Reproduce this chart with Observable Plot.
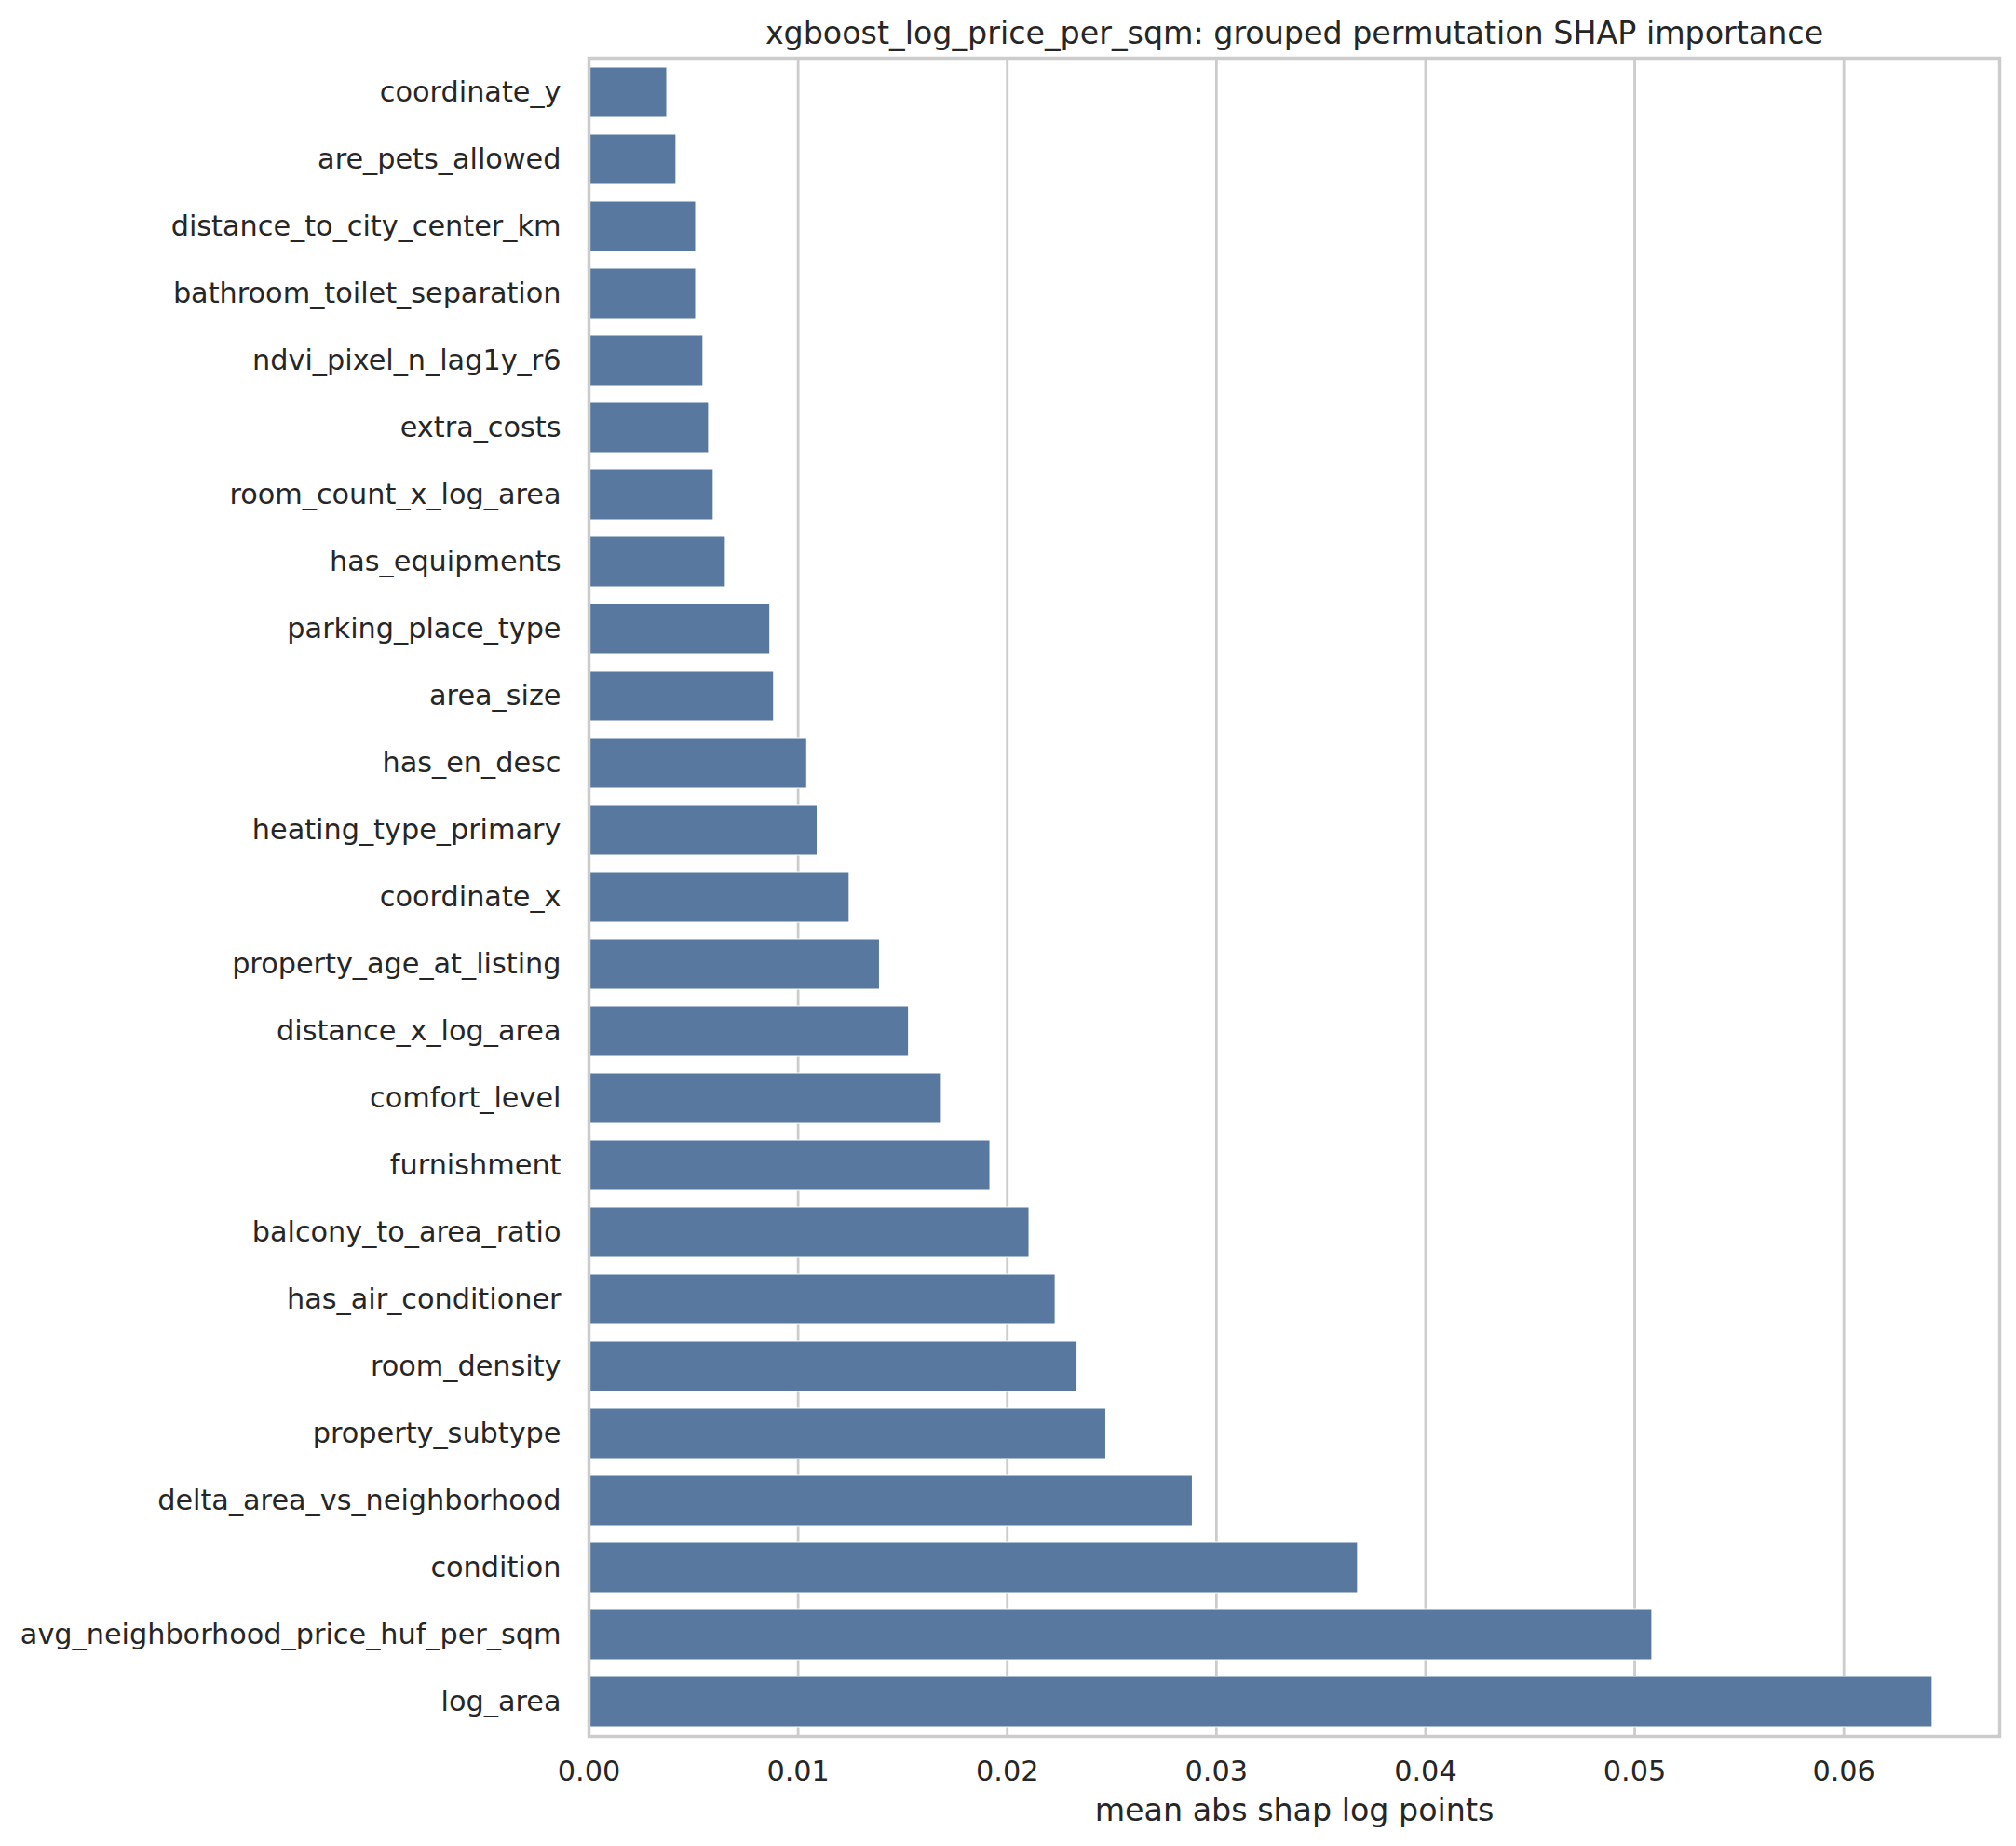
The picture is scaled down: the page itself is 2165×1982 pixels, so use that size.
<!DOCTYPE html>
<html><head><meta charset="utf-8">
<script src="https://cdn.jsdelivr.net/npm/d3@7"></script>
<script src="https://cdn.jsdelivr.net/npm/@observablehq/plot@0.6"></script>
<style>body{margin:0;background:#fff} svg{font-family:"DejaVu Sans"}</style>
</head><body><div id="chart"></div>
<script>
const features = [
  "coordinate_y","are_pets_allowed","distance_to_city_center_km","bathroom_toilet_separation",
  "ndvi_pixel_n_lag1y_r6","extra_costs","room_count_x_log_area","has_equipments",
  "parking_place_type","area_size","has_en_desc","heating_type_primary","coordinate_x",
  "property_age_at_listing","distance_x_log_area","comfort_level","furnishment",
  "balcony_to_area_ratio","has_air_conditioner","room_density","property_subtype",
  "delta_area_vs_neighborhood","condition","avg_neighborhood_price_huf_per_sqm","log_area"
];
const importance = [
  0.00374,0.00418,0.00512,0.00512,
  0.00547,0.00574,0.00596,0.00654,
  0.00867,0.00885,0.01043,0.01093,0.01246,
  0.01391,0.01530,0.01687,0.01919,
  0.02106,0.02231,0.02334,0.02473,
  0.02887,0.03677,0.05084,0.06424
];
const xTicks = [0, 0.01, 0.02, 0.03, 0.04, 0.05, 0.06];
const title = "xgboost_log_price_per_sqm: grouped permutation SHAP importance";
const xLabel = "mean abs shap log points";

const data = features.map((f, i) => ({feature: f, value: importance[i]}));
const fmt = d3.format(".2f");

const chart = Plot.plot({
  width: 2165, height: 1982,
  marginLeft: 632, marginRight: 18, marginTop: 62, marginBottom: 118,
  style: {fontFamily: "DejaVu Sans", fontSize: "30.3px", color: "#262626", background: "#fff", overflow: "visible"},
  x: {domain: [0, 0.06745], label: null},
  y: {domain: features, paddingInner: 0.25, paddingOuter: 0.125, label: null},
  marks: [
    Plot.gridX(xTicks, {stroke: "#cccccc", strokeOpacity: 1, strokeWidth: 2.8}),
    Plot.barX(data, {x: "value", y: "feature", fill: "#5878a0", stroke: "white", strokeWidth: 1}),
    Plot.frame({stroke: "#cccccc", strokeWidth: 3.5}),
    Plot.axisX(xTicks, {tickFormat: fmt, tickSize: 0, tickPadding: 26, label: null}),
    Plot.axisY({tickSize: 0, tickPadding: 30, label: null}),
    Plot.text([title], {text: d => d, frameAnchor: "top", dy: -16, lineAnchor: "bottom", fontSize: 33.3}),
    Plot.text([xLabel], {text: d => d, frameAnchor: "bottom", dy: 90, lineAnchor: "bottom", fontSize: 33.3})
  ]
});
document.getElementById("chart").append(chart);
</script>
</body></html>
